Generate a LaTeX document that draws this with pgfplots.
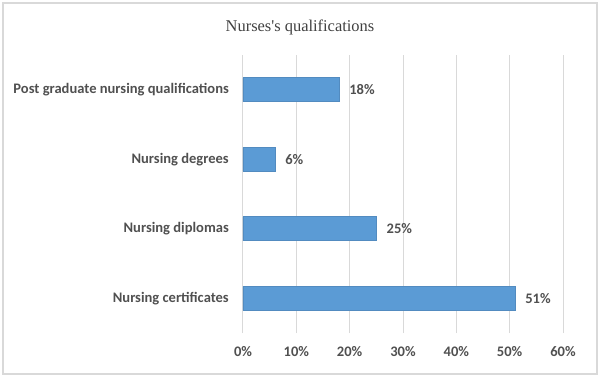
\documentclass[border=0pt]{standalone}
\usepackage{pgfplots}
\pgfplotsset{compat=1.18}
\usepackage{fontspec}
\setmainfont{Carlito}
\newfontfamily\titlefont{Liberation Serif}
\definecolor{barblue}{HTML}{5B9BD5}
\definecolor{txt}{HTML}{505050}
\definecolor{titc}{HTML}{404040}
\definecolor{gridc}{HTML}{D9D9D9}
\begin{document}
\begin{tikzpicture}[x=1bp,y=1bp]
\path[use as bounding box] (-243,-44) rectangle (357,333);
\draw[gridc, line width=1.2bp] (-240,-41) rectangle (354,330);
\begin{axis}[at={(0,0)}, anchor=south west, scale only axis,
  width=320bp, height=278bp,
  xbar, bar width=24bp,
  xmin=0, xmax=60, ymin=-0.5, ymax=3.5,
  xtick={0,10,...,60},
  xticklabel={\pgfmathprintnumber{\tick}\%},
  /pgf/number format/assume math mode=true,
  ytick={0,1,2,3},
  yticklabels={Nursing certificates, Nursing diplomas, Nursing degrees, Post graduate nursing qualifications},
  axis line style={draw=none},
  major tick length=0pt,
  xmajorgrids,
  grid style={gridc, line width=1bp},
  tick label style={font=\fontsize{14.6}{16}\selectfont\bfseries, text=txt, inner sep=0pt},
  yticklabel style={anchor=east, xshift=-14bp},
  xticklabel style={anchor=center, yshift=-19bp},
  nodes near coords={\pgfmathprintnumber{\pgfplotspointmeta}\%},
  nodes near coords style={anchor=west, inner sep=0pt, xshift=10bp, font=\fontsize{14.6}{16}\selectfont\bfseries, text=txt},
  clip=false,
]
\addplot[fill=barblue, draw=barblue!90!black, line width=0.6bp] coordinates {(51,0) (25,1) (6,2) (18,3)};
\end{axis}
\node[font=\titlefont\fontsize{16.5}{18}\selectfont, text=titc] at (57,306) {Nurses's qualifications};
\end{tikzpicture}
\end{document}
